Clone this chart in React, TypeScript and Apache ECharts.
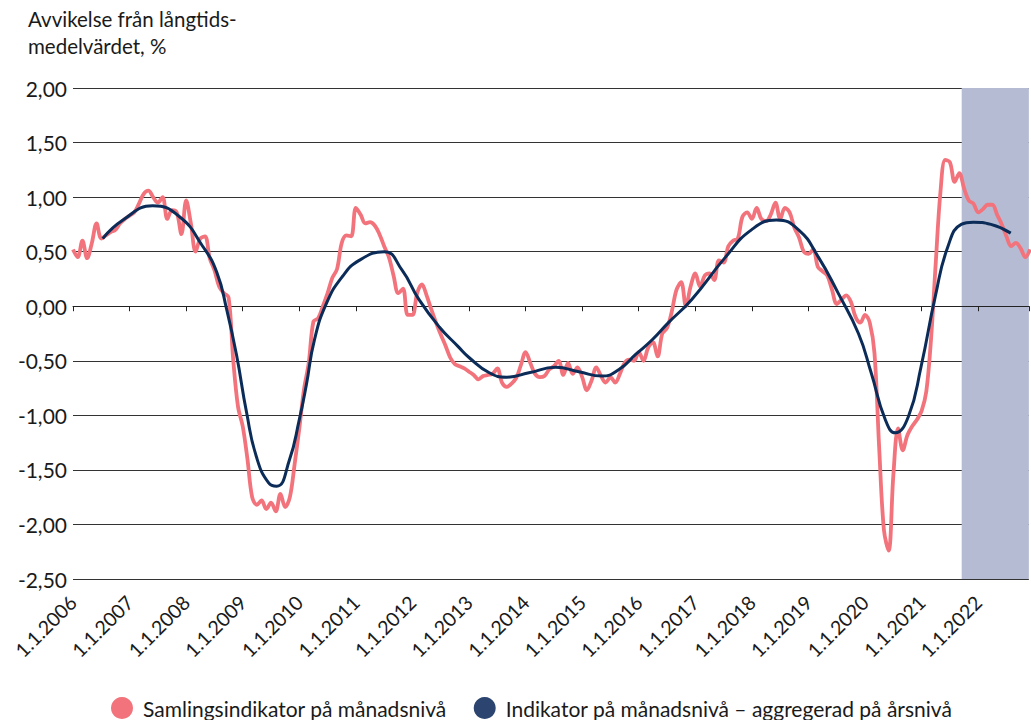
import React, { useEffect, useRef } from 'react';
import * as echarts from 'echarts';

const startYear = 2006;
const yearLabelPrefix = '1.1.';

// Monthly values from Jan 2006 (index 0)
const redValues = [
  0.52, 0.45, 0.60, 0.44, 0.58, 0.76, 0.62, 0.65, 0.68, 0.70, 0.76, 0.80,
  0.83, 0.86, 0.94, 1.03, 1.06, 1.00, 0.95, 1.00, 0.80, 0.88, 0.86, 0.66,
  0.97, 0.76, 0.50, 0.62, 0.64, 0.44, 0.33, 0.18, 0.12, 0.08, -0.50, -0.92,
  -1.10, -1.40, -1.75, -1.82, -1.78, -1.86, -1.80, -1.88, -1.72, -1.84, -1.75, -1.45,
  -1.12, -0.76, -0.52, -0.14, -0.11, 0.00, 0.12, 0.26, 0.34, 0.58, 0.65, 0.64,
  0.90, 0.84, 0.76, 0.77, 0.74, 0.66, 0.55, 0.45, 0.28, 0.12, 0.16, -0.08,
  -0.08, 0.12, 0.20, 0.10, -0.03, -0.15, -0.26, -0.36, -0.47, -0.53, -0.55, -0.57,
  -0.60, -0.63, -0.67, -0.64, -0.63, -0.62, -0.57, -0.70, -0.74, -0.71, -0.66, -0.54,
  -0.42, -0.52, -0.62, -0.65, -0.64, -0.58, -0.55, -0.50, -0.63, -0.52, -0.62, -0.56,
  -0.65, -0.77, -0.68, -0.56, -0.64, -0.70, -0.65, -0.70, -0.62, -0.52, -0.49, -0.50,
  -0.42, -0.50, -0.38, -0.33, -0.46, -0.25, -0.20, -0.05, 0.15, 0.22, 0.00, 0.18,
  0.30, 0.18, 0.28, 0.30, 0.24, 0.42, 0.40, 0.55, 0.60, 0.62, 0.82, 0.86,
  0.80, 0.90, 0.80, 0.78, 0.84, 0.95, 0.80, 0.90, 0.86, 0.72, 0.63, 0.50,
  0.48, 0.52, 0.36, 0.32, 0.28, 0.15, 0.02, 0.06, 0.10, 0.04, -0.10, -0.15,
  -0.08, -0.15, -0.43, -1.30, -2.05, -2.24, -1.55, -1.12, -1.32, -1.18, -1.10, -1.04,
  -0.96, -0.78, -0.30, 0.40, 1.05, 1.34, 1.32, 1.14, 1.22, 1.08, 0.97, 0.94,
  0.86, 0.89, 0.93, 0.93, 0.84, 0.75, 0.64, 0.55, 0.58, 0.53, 0.45, 0.52,
];

// Annual-aggregated indicator (month index from Jan 2006, value)
const navyMonths = [
  6.3, 10.6, 16.9, 22.6, 27.5, 30.5, 32.6, 34.7, 36.8, 38.9, 41.5, 43.2, 45.9, 48,
  49.5, 51.2, 53.8, 57.1, 60.7, 66, 69.8, 73.4, 77.7, 81.7, 84, 88.3, 92, 96.7,
  102.4, 107.3, 112.2, 115.8, 119.4, 122.8, 126.3, 131.2, 138.4, 143.9, 149.2,
  153.9, 158.1, 162.3, 166.6, 169.3, 172.3, 174.4, 177.2, 179.9, 182.9, 185.6,
  188.4, 191, 194.7, 198.9,
];
const navyValues = [
  0.62, 0.79, 0.92, 0.82, 0.55, 0.31, -0.03, -0.45, -0.97, -1.38, -1.62, -1.65, -1.41, -1.04,
  -0.72, -0.31, 0.03, 0.27, 0.42, 0.50, 0.33, 0.06, -0.19, -0.37, -0.47, -0.61, -0.65, -0.61,
  -0.56, -0.60, -0.64, -0.58, -0.44, -0.31, -0.15, 0.06, 0.45, 0.70, 0.79,
  0.70, 0.45, 0.12, -0.25, -0.61, -1.04, -1.16, -1.01, -0.55, 0.09, 0.55,
  0.75, 0.77, 0.75, 0.67,
];

const forecastStartMonth = 188.5;
const axisMaxMonth = 202.75;

const seriesNames = [
  'Samlingsindikator på månadsnivå',
  'Indikator på månadsnivå – aggregerad på årsnivå',
];

const FONT = 'Lato, "Open Sans", sans-serif';

export default function App() {
  const ref = useRef<HTMLDivElement>(null);
  useEffect(() => {
    const chart = echarts.init(ref.current!, null, { renderer: 'svg' });
    chart.setOption({
      animation: false,
      backgroundColor: '#ffffff',
      title: {
        text: 'Avvikelse från långtids-\nmedelvärdet, %',
        left: 28,
        top: 5,
        padding: 0,
        textStyle: { fontSize: 20.5, fontWeight: 'normal', color: '#1a1a1a', lineHeight: 27, fontFamily: FONT },
      },
      legend: {
        data: seriesNames,
        left: 111,
        top: 697,
        padding: 0,
        icon: 'circle',
        itemWidth: 32,
        itemHeight: 22,
        itemGap: 27,
        textStyle: { fontSize: 21, color: '#1a1a1a', fontFamily: FONT },
      },
      grid: { left: 73, right: 0, top: 88, bottom: 141, containLabel: false },
      xAxis: [
        {
          type: 'value',
          min: 0,
          max: axisMaxMonth,
          interval: 12,
          position: 'bottom',
          axisLine: { show: false, onZero: false },
          axisTick: { show: false },
          splitLine: { show: false },
          axisLabel: {
            rotate: 45,
            margin: 20,
            fontSize: 19.5,
            color: '#1a1a1a',
            fontFamily: FONT,
            formatter: (v: number) => (Math.abs(v % 12) < 1e-6 ? yearLabelPrefix + (startYear + Math.round(v / 12)) : ''),
          },
        },
        {
          type: 'value',
          min: 0,
          max: axisMaxMonth,
          interval: 12,
          position: 'bottom',
          z: 3,
          axisLine: { show: true, onZero: true, lineStyle: { color: '#222', width: 1 } },
          axisTick: { show: true, length: 5, lineStyle: { color: '#222', width: 1 } },
          axisLabel: { show: false },
          splitLine: { show: false },
        },
      ],
      yAxis: {
        type: 'value',
        min: -2.5,
        max: 2,
        interval: 0.5,
        axisLine: { show: false },
        axisTick: { show: false },
        splitLine: { show: true, lineStyle: { color: '#333', width: 1.2 } },
        axisLabel: {
          fontSize: 21,
          color: '#1a1a1a',
          margin: 6,
          fontFamily: FONT,
          formatter: (v: number) => v.toFixed(2).replace('.', ','),
        },
      },
      series: [
        {
          name: 'forecast',
          type: 'line',
          data: [],
          z: 1,
          silent: true,
          markArea: {
            silent: true,
            itemStyle: { color: '#B5BBD2' },
            data: [[{ xAxis: forecastStartMonth }, { xAxis: axisMaxMonth }]],
          },
        },
        {
          name: seriesNames[0],
          type: 'line',
          data: redValues.map((v, i) => [i, v]),
          smooth: 0.35,
          symbol: 'none',
          z: 4,
          lineStyle: { color: '#F2737B', width: 3.8 },
          itemStyle: { color: '#F2737B' },
        },
        {
          name: seriesNames[1],
          type: 'line',
          data: navyMonths.map((m, i) => [m, navyValues[i]]),
          smooth: 0.5,
          symbol: 'none',
          z: 5,
          lineStyle: { color: '#0B2C58', width: 3 },
          itemStyle: { color: '#2C4570' },
        },
      ],
    });
    return () => chart.dispose();
  }, []);
  return (
    <div
      ref={ref}
      style={{ position: 'fixed', left: 0, top: 0, width: 1031, height: 720, background: '#fff' }}
    />
  );
}
